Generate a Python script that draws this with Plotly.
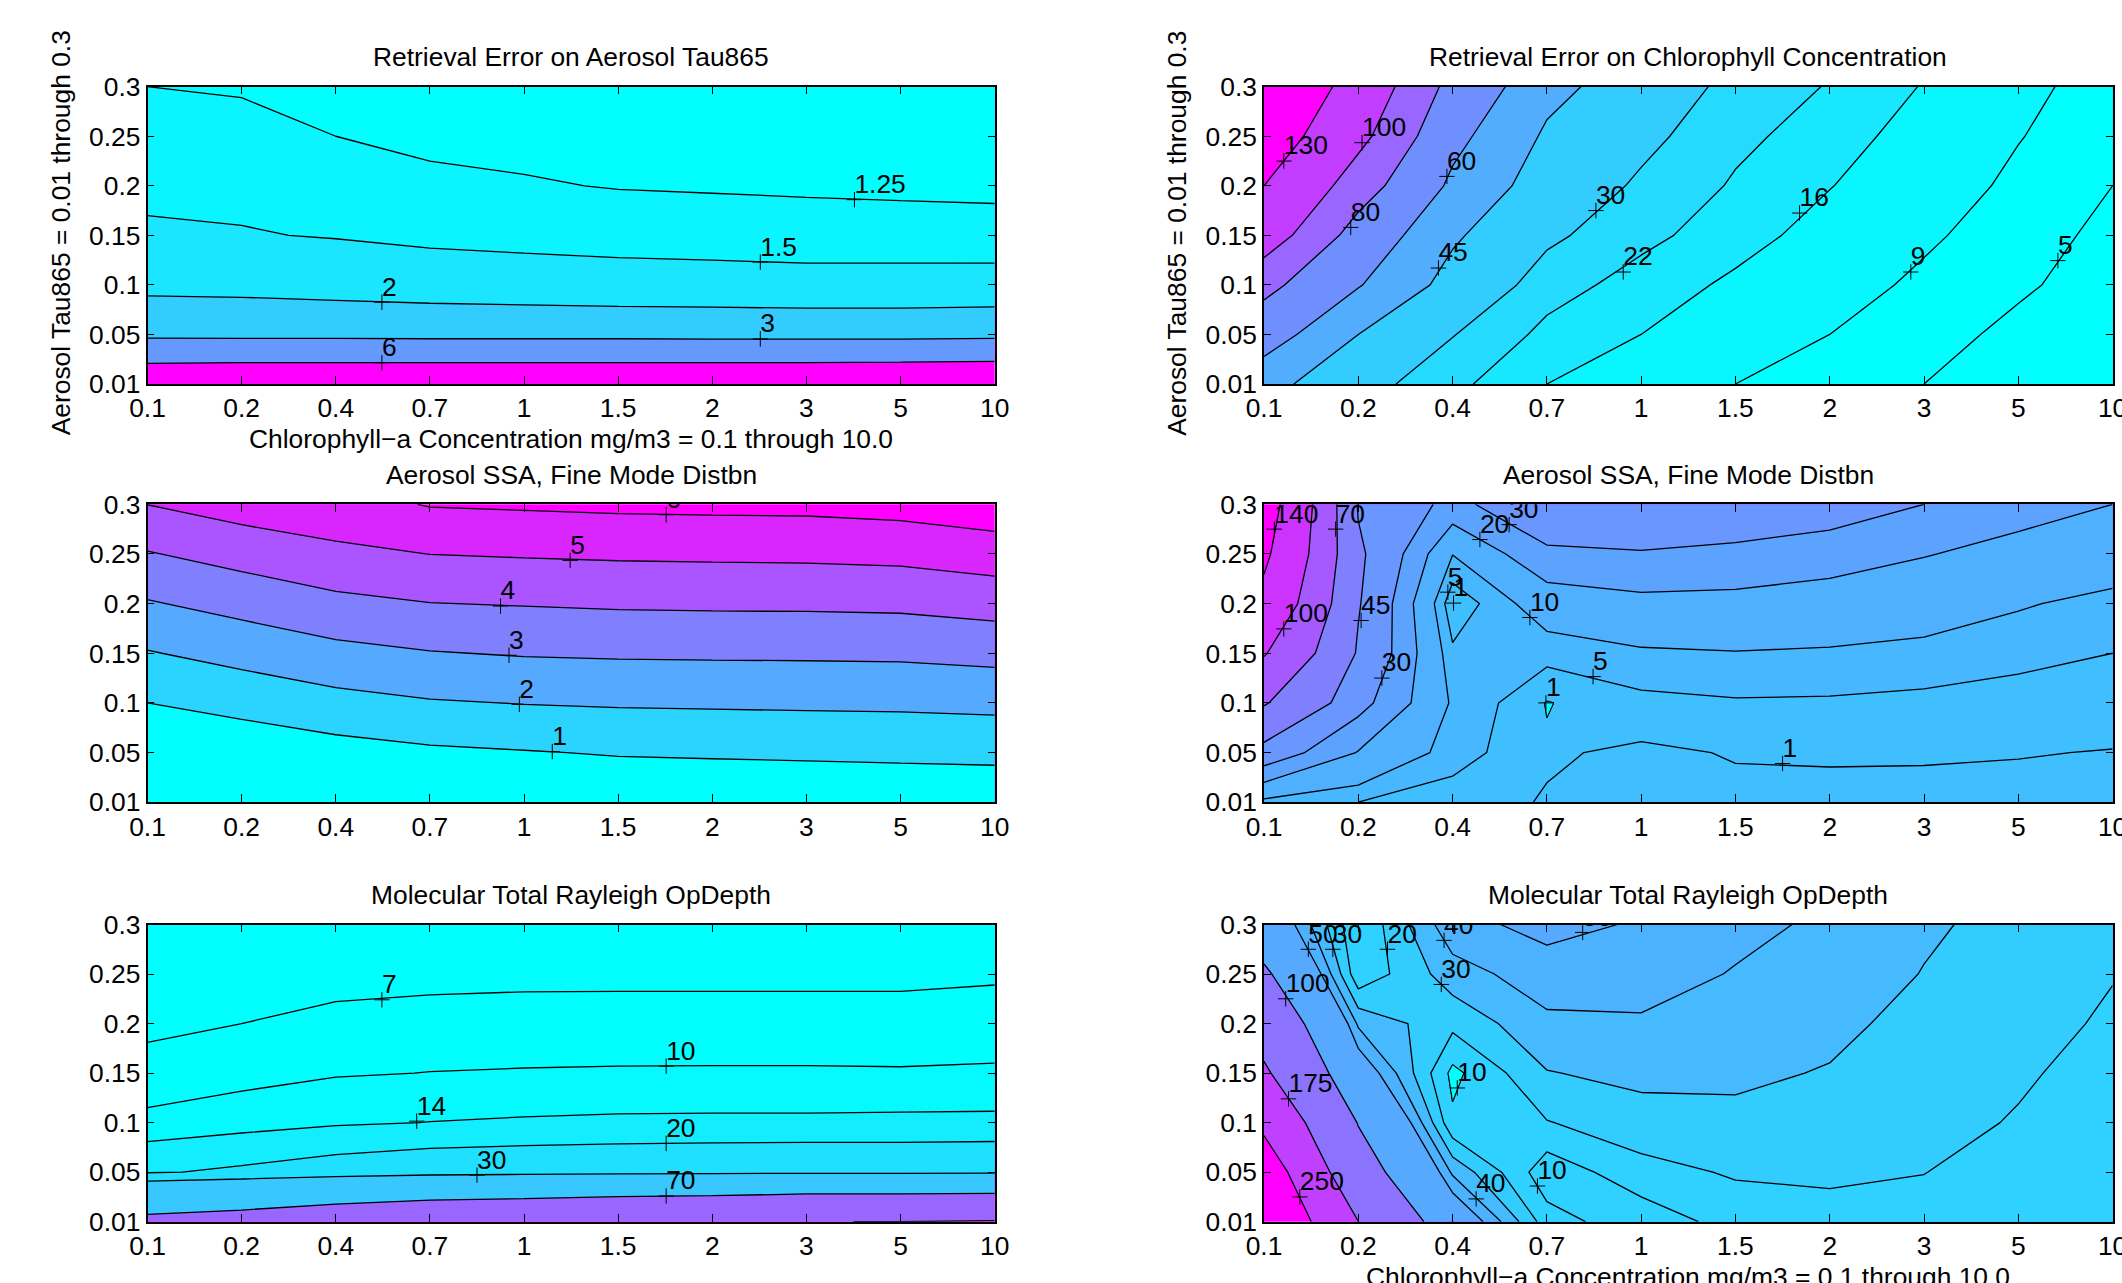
import numpy as np
import plotly.graph_objects as go

W, H = 2122, 1283

chl_ticks = ["0.1", "0.2", "0.4", "0.7", "1", "1.5", "2", "3", "5", "10"]
tau_ticks = ["0.01", "0.05", "0.1", "0.15", "0.2", "0.25", "0.3"]
x_label = "Chlorophyll\u2212a Concentration mg/m3 = 0.1 through 10.0"
y_label = "Aerosol Tau865 = 0.01 through 0.3"

# ---- values: rows run from tau 0.01 up to tau 0.3, columns from chl 0.1 to 10
tau_err_z = [
    [8.45, 8.63, 8.63, 8.67, 8.67, 8.67, 8.71, 8.71, 8.83, 8.95],
    [2.56, 2.51, 2.51, 2.46, 2.46, 2.46, 2.41, 2.41, 2.40, 2.48],
    [1.84, 1.83, 1.77, 1.73, 1.69, 1.65, 1.665, 1.636, 1.645, 1.62],
    [1.54, 1.52, 1.48, 1.42, 1.393, 1.377, 1.335, 1.326, 1.315, 1.347],
    [1.44, 1.42, 1.365, 1.30, 1.268, 1.24, 1.235, 1.227, 1.222, 1.196],
    [1.35, 1.32, 1.25, 1.20, 1.19, 1.17, 1.17, 1.17, 1.16, 1.15],
    [1.25, 1.23, 1.17, 1.13, 1.13, 1.12, 1.12, 1.12, 1.12, 1.11],
]
tau_err_levels = [1.25, 1.5, 2, 3, 6]
tau_err_shades = [0.0, 0.04, 0.1, 0.2, 0.4, 1.0]
tau_err_labels = ["1.25", "1.5", "2", "3", "6"]
tau_err_lx = [7.51, 6.51, 2.49, 6.51, 2.49]
tau_err_ly = [3.72, 2.46, 1.65, 0.91, 0.43]

chl_err_z = [
    [50, 34.2, 23.7, 16, 12.5, 9, 7, 5, 3.8, 2.8],
    [68, 45, 30.4, 19.9, 16, 12.5, 9, 6.5, 4, 2.6],
    [85.3, 61, 40, 25.3, 19, 14.9, 11.4, 7.9, 5.6, 3.2],
    [112, 72, 47, 32, 24, 18.2, 13.7, 9.9, 6.3, 4.2],
    [130, 89, 57, 38, 28.4, 21.1, 16.2, 12, 7.8, 5.0],
    [147.4, 106, 64.5, 43, 32.7, 23.8, 18.6, 13.4, 9.25, 5.7],
    [166, 116.6, 74, 49, 37.9, 26.8, 21.5, 15.6, 10.85, 6.1],
]
chl_err_levels = [5, 9, 16, 22, 30, 45, 60, 80, 100, 130]
chl_err_shades = [0.0, 0.0, 0.03, 0.09, 0.14, 0.2, 0.32, 0.44, 0.6, 0.76, 1.0]
chl_err_labels = ["130", "100", "60", "80", "45", "30", "22", "16", "9", "5"]
chl_err_lx = [0.21, 1.04, 1.94, 0.92, 1.85, 3.52, 3.81, 5.68, 6.86, 8.42]
chl_err_ly = [4.50, 4.87, 4.19, 3.16, 2.34, 3.50, 2.26, 3.45, 2.26, 2.49]

ssa_tau_z = [
    [0.3, 0.2, 0.3, 0.3, 0.3, 0.3, 0.3, 0.3, 0.3, 0.3],
    [0.5, 0.33, 0.62, 0.84, 0.95, 1.06, 1.10, 1.14, 1.19, 1.24],
    [1.0, 1.33, 1.68, 1.92, 2.03, 2.10, 2.13, 2.16, 2.18, 2.25],
    [1.94, 2.33, 2.72, 2.95, 3.07, 3.12, 3.14, 3.15, 3.17, 3.30],
    [2.92, 3.33, 3.74, 3.98, 4.05, 4.12, 4.15, 4.16, 4.20, 4.38],
    [3.94, 4.37, 4.79, 5.01, 5.08, 5.14, 5.17, 5.19, 5.26, 5.50],
    [5.01, 5.44, 5.6, 6.06, 6.13, 6.20, 6.23, 6.25, 6.36, 6.60],
]
ssa_tau_levels = [1, 2, 3, 4, 5, 6]
ssa_tau_shades = [0.0, 0.167, 0.333, 0.5, 0.667, 0.85, 1.0]
ssa_tau_labels = ["1", "2", "3", "4", "5", "6"]
ssa_tau_lx = [4.30, 3.95, 3.84, 3.75, 4.49, 5.51]
ssa_tau_ly = [1.02, 1.97, 2.96, 3.95, 4.87, 5.79]

ssa_chl_z = [
    [8, 5, 2.8, 0.7, 0.15, 0.1, 0.27, 0.15, 0.2, 0.3],
    [38, 19.5, 7, 1.47, 0.27, 1.25, 1.3, 1.3, 1.12, 0.9],
    [72, 34, 9, 0.8, 3.6, 4.47, 4.36, 3.77, 2.72, 2.3],
    [102, 43.2, 6, 6.6, 9, 9.7, 9.1, 8.15, 6.65, 5.0],
    [130, 46.2, 1.3, 14.3, 17.3, 17, 16.3, 13.84, 10.6, 8.2],
    [147, 48, 10.2, 27.6, 29.2, 27.5, 23.6, 20.46, 17.2, 14.1],
    [160, 43.5, 26.5, 41, 40.6, 38.4, 36.9, 30, 23.4, 20],
]
ssa_chl_levels = [1, 5, 10, 20, 30, 45, 70, 100, 140]
ssa_chl_shades = [0.25, 0.25, 0.28, 0.31, 0.36, 0.41, 0.5, 0.65, 0.8, 1.0]
ssa_chl_labels = ["140", "70", "100", "45", "30", "20", "30", "5", "1", "10", "5", "1", "1"]
ssa_chl_lx = [0.11, 0.76, 0.21, 1.03, 1.25, 2.29, 2.60, 1.95, 2.01, 2.82, 3.49, 2.99, 5.50]
ssa_chl_ly = [5.50, 5.50, 3.49, 3.66, 2.50, 5.29, 5.59, 4.23, 4.01, 3.72, 2.53, 2.00, 0.78]

ray_tau_z = [
    [78.8, 85, 95.6, 104.6, 108, 114, 117, 123.8, 124.2, 126],
    [19.3, 21.2, 23.6, 25.5, 26.3, 26.9, 27.4, 27.7, 27.5, 28.0],
    [10.7, 12.1, 13.4, 14.08, 14.5, 14.8, 14.87, 14.87, 15.0, 15.08],
    [8.4, 8.8, 9.7, 10.06, 10.2, 10.28, 10.3, 10.3, 10.25, 10.38],
    [6.15, 7.0, 7.8, 8.1, 8.25, 8.3, 8.3, 8.3, 8.3, 8.48],
    [5.6, 6.2, 6.0, 6.2, 6.3, 6.3, 6.3, 6.3, 6.3, 6.58],
    [5.2, 5.6, 5.6, 5.6, 5.6, 5.6, 5.6, 5.6, 5.6, 5.9],
]
ray_tau_levels = [7, 10, 14, 20, 30, 70, 124]
ray_tau_shades = [0.0, 0.0, 0.02, 0.07, 0.12, 0.22, 0.6, 1.0]
ray_tau_labels = ["7", "10", "14", "20", "30", "70"]
ray_tau_lx = [2.49, 5.51, 2.86, 5.51, 3.50, 5.51]
ray_tau_ly = [4.48, 3.14, 2.03, 1.58, 0.94, 0.52]

ray_chl_z = [
    [325, 175.5, 67, 14.5, 3.5, 14.2, 17, 16, 13, 12],
    [292, 125, 38, 3.4, 16.5, 21.1, 21.5, 20.2, 15, 14],
    [235, 98, 11.9, 19.5, 25.8, 26.8, 25.3, 22.5, 19.4, 16],
    [184, 62, 7.4, 29.5, 32.7, 32.5, 29.1, 24.3, 21, 17.2],
    [146, 38, 22.8, 37.7, 38.7, 35.9, 33.5, 25.5, 23, 18.8],
    [108, 12.3, 35.4, 45.8, 44.7, 39.3, 36, 29.6, 25, 20.36],
    [69, 10.5, 46.9, 53, 49, 43, 38, 31.6, 26.6, 23],
]
ray_chl_levels = [10, 20, 30, 40, 50, 100, 175, 250]
ray_chl_shades = [0.18, 0.18, 0.2, 0.27, 0.3, 0.34, 0.55, 0.75, 1.0]
ray_chl_labels = ["50", "30", "20", "40", "30", "100", "175", "250", "10", "40", "10", "50"]
ray_chl_lx = [0.47, 0.73, 1.31, 1.91, 1.88, 0.23, 0.26, 0.38, 2.05, 2.25, 2.90, 3.38]
ray_chl_ly = [5.50, 5.50, 5.50, 5.68, 4.79, 4.50, 2.48, 0.50, 2.70, 0.46, 0.72, 5.84]

# pockets that the original fills with the palette's lowest colour
# (columns, rows, values; a small part of the grid around each minimum)
ssa_pocket_x = [2, 3, 4]
ssa_pocket_y = [1, 2, 3]
ssa_pocket_z = [[7, 1.47, 1.5], [9, 0.8, 3.6], [6, 6.6, 9]]
ray_pocket_x = [1, 2, 3]
ray_pocket_y = [2, 3, 4]
ray_pocket_z = [[98, 11.9, 19.5], [62, 7.4, 29.5], [38, 22.8, 37.7]]

panels = [
    ("Retrieval Error on Aerosol Tau865", tau_err_z, tau_err_levels, tau_err_shades,
     tau_err_labels, tau_err_lx, tau_err_ly, None, True, True),
    ("Retrieval Error on Chlorophyll Concentration", chl_err_z, chl_err_levels, chl_err_shades,
     chl_err_labels, chl_err_lx, chl_err_ly, None, False, True),
    ("Aerosol SSA, Fine Mode Distbn", ssa_tau_z, ssa_tau_levels, ssa_tau_shades,
     ssa_tau_labels, ssa_tau_lx, ssa_tau_ly, None, False, False),
    ("Aerosol SSA, Fine Mode Distbn", ssa_chl_z, ssa_chl_levels, ssa_chl_shades,
     ssa_chl_labels, ssa_chl_lx, ssa_chl_ly, (ssa_pocket_x, ssa_pocket_y, ssa_pocket_z, 1), False, False),
    ("Molecular Total Rayleigh OpDepth", ray_tau_z, ray_tau_levels, ray_tau_shades,
     ray_tau_labels, ray_tau_lx, ray_tau_ly, None, False, False),
    ("Molecular Total Rayleigh OpDepth", ray_chl_z, ray_chl_levels, ray_chl_shades,
     ray_chl_labels, ray_chl_lx, ray_chl_ly, (ray_pocket_x, ray_pocket_y, ray_pocket_z, 10), True, False),
]
# pixel frames
col_px = [(147.5, 994.7), (1264.0, 2112.6)]
row_px = [(86.7, 384.0), (504.3, 802.2), (924.5, 1221.7)]
FONT = "Liberation Sans"
FS = 26.4


def cool(t):
    r = int(round(255 * t))
    g = int(round(255 * (1 - t)))
    return f"rgb({r},{g},255)"


fig = go.Figure()
layout = {}
annotations = []
xs = list(range(len(chl_ticks)))
ys = list(range(len(tau_ticks)))

for n, (title, z, levels, shades, labels, lx, ly, pocket, show_x, show_y) in enumerate(panels):
    r, c = n // 2, n % 2
    ax = "" if n == 0 else str(n + 1)
    xa, ya = "x" + ax, "y" + ax
    x0, x1 = col_px[c]
    y0, y1 = row_px[r]
    common = dict(
        ticks="inside", tickwidth=1, tickcolor="black", showline=True,
        linecolor="black", linewidth=1.5, mirror="ticks", showgrid=False, zeroline=False,
        fixedrange=True, tickfont=dict(family=FONT, size=FS, color="black"), tickmode="array",
        ticklabeloverflow="allow",
    )
    layout["xaxis" + ax] = dict(common, domain=[x0 / W, x1 / W], range=[0, len(xs) - 1], ticklen=8,
                                tickvals=xs, ticktext=chl_ticks, anchor=ya)
    layout["yaxis" + ax] = dict(common, domain=[1 - y1 / H, 1 - y0 / H], range=[0, len(ys) - 1], ticklen=7,
                                tickvals=ys, ticktext=tau_ticks, anchor=xa)

    # A constraint contour shades what lies outside the constraint, so each trace
    # paints everything below its level; go from the top level down.
    z_arr = np.array(z, dtype=float)
    fig.add_shape(type="rect", xref=xa + " domain", yref=ya + " domain", x0=0, x1=1, y0=0, y1=1,
                  fillcolor=cool(shades[-1]), line_width=0, layer="below")
    for k in range(len(levels) - 1, -1, -1):
        fig.add_trace(go.Contour(
            x=xs, y=ys, z=z_arr, xaxis=xa, yaxis=ya, showscale=False, hoverinfo="skip",
            fillcolor=cool(shades[k]), line=dict(color="black", width=1.3, smoothing=0),
            contours=dict(type="constraint", operation=">=", value=levels[k], showlabels=False),
        ))
    if pocket is not None:
        fig.add_trace(go.Contour(
            x=pocket[0], y=pocket[1], z=pocket[2], xaxis=xa, yaxis=ya, showscale=False,
            hoverinfo="skip", fillcolor=cool(0), line=dict(color="black", width=1, smoothing=0),
            contours=dict(type="constraint", operation=">=", value=pocket[3], showlabels=False),
        ))
    fig.add_trace(go.Scatter(
        x=lx, y=ly, xaxis=xa, yaxis=ya, mode="markers", hoverinfo="skip", showlegend=False,
        marker=dict(symbol="cross-thin", size=11, color="black", line=dict(color="black", width=1)),
    ))
    fig.add_trace(go.Scatter(
        x=lx, y=ly, xaxis=xa, yaxis=ya, mode="text", text=labels, textposition="top right",
        hoverinfo="skip", showlegend=False, cliponaxis=True,
        textfont=dict(family=FONT, size=FS, color="black"),
    ))
    cx = (x0 + x1) / 2
    annotations.append(dict(text=title, x=cx / W, y=1 - (y0 - 29.5) / H, xref="paper", yref="paper",
                            xanchor="center", yanchor="middle", showarrow=False,
                            font=dict(family=FONT, size=FS, color="black")))
    if show_x:
        annotations.append(dict(text=x_label, x=cx / W, y=1 - (y1 + 55) / H, xref="paper", yref="paper",
                                xanchor="center", yanchor="middle", showarrow=False,
                                font=dict(family=FONT, size=FS, color="black")))
    if show_y:
        annotations.append(dict(text=y_label, x=(x0 - 86.5) / W, y=1 - ((y0 + y1) / 2 - 2) / H,
                                xref="paper", yref="paper", textangle=-90,
                                xanchor="center", yanchor="middle", showarrow=False,
                                font=dict(family=FONT, size=FS, color="black")))

fig.update_layout(
    width=W, height=H, margin=dict(l=0, r=0, t=0, b=0, autoexpand=False), showlegend=False,
    paper_bgcolor="white", plot_bgcolor="white", annotations=annotations, **layout,
)
fig.write_html("out.html", config=dict(displayModeBar=False),
               post_script="document.body.style.margin='0';document.body.style.overflow='hidden';")
